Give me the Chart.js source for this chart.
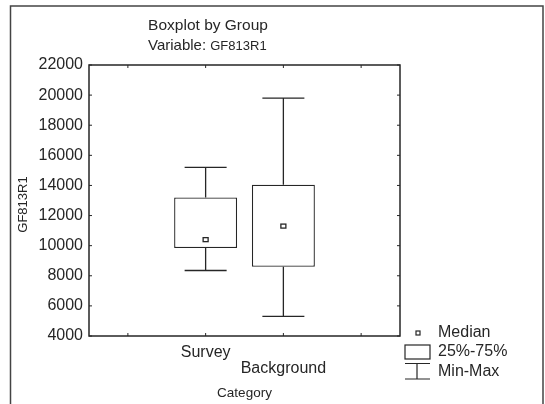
<!DOCTYPE html>
<html>
<head>
<meta charset="utf-8">
<script src="https://cdn.jsdelivr.net/npm/chart.js@4/dist/chart.umd.min.js"></script>
<style>
  html, body { margin: 0; padding: 0; background: #fff; }
  #wrap { width: 545px; height: 404px; position: relative; }
</style>
</head>
<body>
<div id="wrap"><canvas id="chart"></canvas></div>
<script>
// Boxplot by group
const categories = ['Survey', 'Background'];
const minVals    = [8350, 5300];
const q1Vals     = [9850, 8600];
const medianVals = [10400, 11300];
const q3Vals     = [13200, 14050];
const maxVals    = [15200, 19800];

const yMin = 4000;
const yMax = 22000;
const yStep = 2000;

const ink = '#262626';
const fontFamily = "'Liberation Sans', Arial, sans-serif";

// two empty slots around the groups, second label pushed down one line
const slotLabels = ['', categories[0], ['', categories[1]], ''];
const boxData = [null, ...categories.map((_, i) => [q1Vals[i], q3Vals[i]]), null];

// whiskers, caps and median markers, drawn through the scales
const boxExtras = {
  id: 'boxExtras',
  afterDatasetsDraw(chart) {
    const { ctx, scales: { x, y } } = chart;
    ctx.save();
    ctx.strokeStyle = ink;
    ctx.lineWidth = 1.3;
    categories.forEach((c, i) => {
      const px = x.getPixelForValue(i + 1);
      const cap = 21;
      const segs = [
        [y.getPixelForValue(q3Vals[i]), y.getPixelForValue(maxVals[i])],
        [y.getPixelForValue(q1Vals[i]), y.getPixelForValue(minVals[i])],
      ];
      segs.forEach(([from, to]) => {
        ctx.beginPath();
        ctx.moveTo(px, from);
        ctx.lineTo(px, to);
        ctx.moveTo(px - cap, to);
        ctx.lineTo(px + cap, to);
        ctx.stroke();
      });
      const my = y.getPixelForValue(medianVals[i]);
      ctx.strokeRect(px - 2.5, my - 2, 5, 4);
    });
    ctx.restore();
  },
};

// page frame, plot border with inward ticks, titles and legend
const decor = {
  id: 'decor',
  beforeDraw(chart) {
    const { ctx, width, height } = chart;
    ctx.save();
    ctx.fillStyle = '#fff';
    ctx.fillRect(0, 0, width, height);
    ctx.strokeStyle = '#444';
    ctx.lineWidth = 1.5;
    ctx.beginPath();
    ctx.moveTo(10.5, height);
    ctx.lineTo(10.5, 6);
    ctx.lineTo(543, 6);
    ctx.lineTo(543, height);
    ctx.stroke();
    ctx.restore();
  },
  afterDraw(chart) {
    const { ctx, chartArea: a, scales: { x, y } } = chart;
    ctx.save();
    ctx.strokeStyle = ink;
    ctx.lineWidth = 1.5;
    ctx.strokeRect(a.left, a.top, a.right - a.left, a.bottom - a.top);

    ctx.lineWidth = 1;
    ctx.beginPath();
    y.ticks.forEach((t, k) => {
      const py = y.getPixelForTick(k);
      ctx.moveTo(a.left, py); ctx.lineTo(a.left + 3, py);
      ctx.moveTo(a.right, py); ctx.lineTo(a.right - 3, py);
    });
    x.ticks.forEach((t, k) => {
      const px = x.getPixelForTick(k);
      ctx.moveTo(px, a.bottom); ctx.lineTo(px, a.bottom - 3);
      ctx.moveTo(px, a.top); ctx.lineTo(px, a.top + 3);
    });
    ctx.stroke();

    ctx.fillStyle = ink;
    ctx.textBaseline = 'middle';

    // titles
    ctx.textAlign = 'center';
    ctx.font = '15.5px ' + fontFamily;
    ctx.fillText('Boxplot by Group', 208, 26);
    ctx.textAlign = 'left';
    ctx.font = '15px ' + fontFamily;
    ctx.fillText('Variable: ', 148, 46);
    const vw = ctx.measureText('Variable: ').width;
    ctx.font = '13px ' + fontFamily;
    ctx.fillText('GF813R1', 148 + vw, 46);

    // axis titles
    ctx.textAlign = 'center';
    ctx.font = '13.5px ' + fontFamily;
    ctx.fillText('Category', (a.left + a.right) / 2, 393);
    ctx.save();
    ctx.translate(23, (a.top + a.bottom) / 2 + 4);
    ctx.rotate(-Math.PI / 2);
    ctx.font = '13px ' + fontFamily;
    ctx.fillText('GF813R1', 0, 0);
    ctx.restore();

    // legend
    ctx.lineWidth = 1.2;
    ctx.strokeRect(416, 331, 4, 4);
    ctx.strokeRect(405, 345, 25, 14);
    ctx.beginPath();
    ctx.moveTo(405, 363.5); ctx.lineTo(430, 363.5);
    ctx.moveTo(417, 363.5); ctx.lineTo(417, 379);
    ctx.moveTo(405, 379); ctx.lineTo(430, 379);
    ctx.stroke();
    ctx.textAlign = 'left';
    ctx.font = '16px ' + fontFamily;
    ctx.fillText('Median', 438, 333);
    ctx.fillText('25%-75%', 438, 352);
    ctx.fillText('Min-Max', 438, 372);
    ctx.restore();
  },
};

new Chart(document.getElementById('chart'), {
  type: 'bar',
  data: {
    labels: slotLabels,
    datasets: [{
      data: boxData,
      backgroundColor: '#fff',
      borderColor: ink,
      borderWidth: 1.3,
      borderSkipped: false,
      barPercentage: 0.81,
      categoryPercentage: 1,
    }],
  },
  options: {
    animation: false,
    responsive: true,
    maintainAspectRatio: false,
    layout: { padding: { top: 65, right: 145, left: 0, bottom: 0 } },
    plugins: { legend: { display: false }, tooltip: { enabled: false } },
    scales: {
      x: {
        grid: { display: false, drawTicks: false },
        border: { display: false },
        ticks: {
          color: ink,
          font: { family: fontFamily, size: 16, lineHeight: 1.04 },
          padding: 8,
          autoSkip: false,
          maxRotation: 0,
        },
        afterFit: (s) => { s.height = 68; },
      },
      y: {
        min: yMin,
        max: yMax,
        grid: { display: false, drawTicks: false },
        border: { display: false },
        ticks: {
          stepSize: yStep,
          color: ink,
          font: { family: fontFamily, size: 16 },
          padding: 6,
          callback: (v) => String(v),
        },
        afterFit: (s) => { s.width = 89; },
      },
    },
  },
  plugins: [decor, boxExtras],
});
</script>
</body>
</html>
